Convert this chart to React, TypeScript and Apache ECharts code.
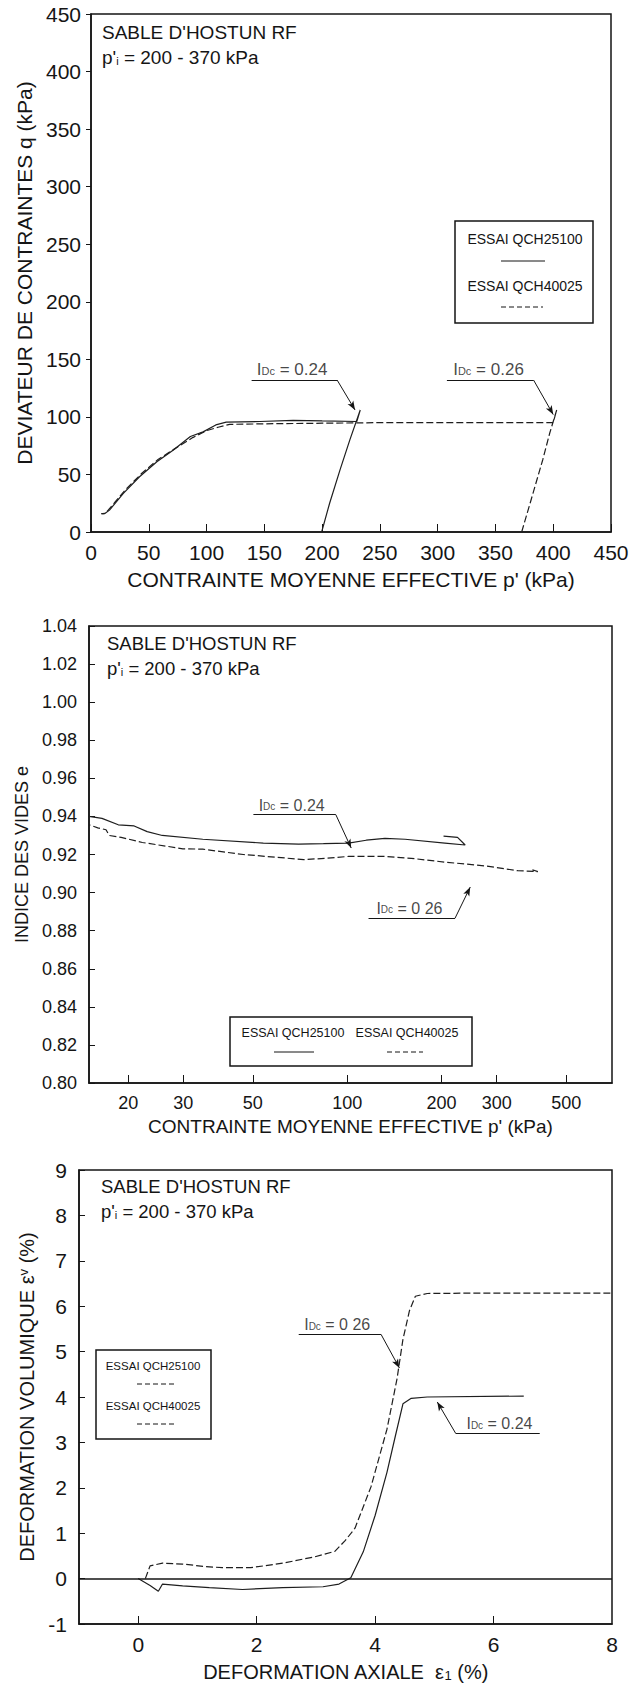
import React, { useEffect, useRef } from 'react';
import * as echarts from 'echarts';

const FONT = 'Liberation Sans, Arial, sans-serif';
const INK = '#151515';

// ---------- Chart 1 : q vs p' ----------
const qTicks = [0, 50, 100, 150, 200, 250, 300, 350, 400, 450];
const pTicks1 = [0, 50, 100, 150, 200, 250, 300, 350, 400, 450];
const c1_Idc024: [number, number][] = [
  [199.6, 0], [206.5, 25], [215.5, 54], [224, 80], [233, 106], [230, 96], [200, 96.5],
  [175, 97], [146, 96], [117, 95.5], [108, 93], [97, 87], [86, 83], [71, 71], [57, 61],
  [42, 48], [28, 33.5], [16, 19], [12, 16], [9, 16],
];
const c1_Idc026: [number, number][] = [
  [372.7, 0], [380, 25], [391, 63], [397, 86], [403, 106], [400, 95], [350, 95], [300, 95],
  [250, 95], [200, 94.5], [150, 94], [120, 93.5], [110, 91], [100, 88], [88, 82], [72, 72],
  [58, 63], [44, 51], [30, 37], [20, 25], [14, 18], [11, 16], [9, 16],
];

// ---------- Chart 2 : e vs log p' ----------
const pTicks2 = [20, 30, 50, 100, 200, 300, 500];
const c2_Idc024: [number, number][] = [
  [203, 0.9297], [225, 0.929], [238, 0.925], [205, 0.926], [153, 0.928], [132, 0.9285],
  [115, 0.9275], [101, 0.926], [84, 0.9257], [70, 0.9255], [54, 0.926], [34.6, 0.928],
  [25.7, 0.930], [23, 0.932], [20.9, 0.935], [18.6, 0.9356], [16.5, 0.939], [15, 0.940],
];
const c2_Idc026: [number, number][] = [
  [390, 0.912], [406, 0.911], [350, 0.9115], [276, 0.914], [205, 0.916], [160, 0.918],
  [132, 0.919], [101, 0.919], [85, 0.918], [72.7, 0.9173], [60, 0.9185], [46.6, 0.920],
  [34.6, 0.9228], [29.9, 0.923], [25, 0.925], [22.2, 0.9263], [19, 0.929], [17.4, 0.930],
  [17, 0.933], [16, 0.934], [15, 0.9356],
];

// ---------- Chart 3 : eps_v vs eps_1 ----------
const eps1Labels = [0, 2, 4, 6, 8];
const eps1Ticks = [0, 2, 4, 6];
const c3_Idc026: [number, number][] = [
  [0.12, 0], [0.2, 0.28], [0.41, 0.34], [0.75, 0.32], [1.1, 0.27], [1.42, 0.24], [1.9, 0.24],
  [2.44, 0.34], [2.98, 0.48], [3.32, 0.6], [3.49, 0.83], [3.66, 1.11], [3.93, 2.02], [4.2, 3.29],
  [4.37, 4.4], [4.47, 5.27], [4.58, 5.9], [4.68, 6.22], [4.88, 6.28], [5.83, 6.29], [8, 6.29],
];
const c3_Idc024: [number, number][] = [
  [0, 0], [0.2, -0.15], [0.34, -0.28], [0.41, -0.12], [0.75, -0.16], [1.2, -0.2], [1.76, -0.24],
  [2.44, -0.2], [3.12, -0.18], [3.39, -0.12], [3.59, 0.02], [3.8, 0.59], [4.0, 1.39], [4.2, 2.34],
  [4.34, 3.13], [4.47, 3.85], [4.61, 3.97], [4.88, 4.0], [6.51, 4.02],
];

// annotations (label value, text centre, underline, arrow) in data units
const notes1 = [
  { v: '0.24', at: [174, 141], under: [[139, 132], [213, 132]], arrow: [[213, 132], [228.5, 106]] },
  { v: '0.26', at: [344, 141], under: [[308, 132], [383, 132]], arrow: [[383, 132], [400, 102]] },
];
const notes2 = [
  { v: '0.24', at: [66.5, 0.9459], under: [[50.2, 0.9409], [92, 0.9409]], arrow: [[92, 0.9409], [103, 0.9234]] },
  { v: '0 26', at: [158, 0.8917], under: [[117, 0.8866], [221, 0.8866]], arrow: [[221, 0.8866], [247, 0.9029]] },
];
const notes3 = [
  { v: '0 26', at: [3.36, 5.59], under: [[2.71, 5.38], [4.1, 5.38]], arrow: [[4.1, 5.38], [4.41, 4.64]] },
  { v: '0.24', at: [6.1, 3.41], under: [[5.36, 3.2], [6.78, 3.2]], arrow: [[5.36, 3.2], [5.05, 3.89]] },
];

const legendNames = ['ESSAI QCH25100', 'ESSAI QCH40025'];

function noteSeries(idx: number, notes: any[], fs: number) {
  return {
    type: 'scatter',
    xAxisIndex: idx,
    yAxisIndex: idx,
    symbolSize: 0,
    silent: true,
    data: notes.map((n) => ({ value: n.at, name: n.v })),
    label: {
      show: true,
      position: 'inside',
      formatter: (p: any) => `I{s|Dc} = ${p.name}`,
      fontSize: fs,
      fontFamily: FONT,
      color: INK,
      rich: { s: { fontSize: Math.round(fs * 0.65), fontFamily: FONT, color: INK, padding: [3, 0, 0, 0] } },
    },
    markLine: {
      silent: true,
      animation: false,
      symbol: ['none', 'none'],
      label: { show: false },
      lineStyle: { color: INK, width: 1, type: 'solid' },
      data: notes.flatMap((n) => [
        [{ coord: n.under[0], symbol: 'none' }, { coord: n.under[1], symbol: 'none' }],
        [{ coord: n.arrow[0], symbol: 'none' }, { coord: n.arrow[1], symbol: 'arrow', symbolSize: [5, 9] }],
      ]),
    },
  };
}

function curve(idx: number, data: [number, number][], dashed: boolean, name: string) {
  return {
    type: 'line',
    name,
    xAxisIndex: idx,
    yAxisIndex: idx,
    data,
    showSymbol: false,
    symbol: 'none',
    silent: true,
    lineStyle: { color: '#1e1e1e', width: 1.2, type: dashed ? [7, 3] : 'solid' },
  };
}

function legendBox(x0: number, y0: number, w: number, h: number, items: any[]) {
  return [
    { type: 'rect', shape: { x: x0, y: y0, width: w, height: h }, style: { fill: '#fff', stroke: INK, lineWidth: 1.5 } },
    ...items,
  ];
}

function gText(text: string, x: number, y: number, fs: number, align = 'left', rich?: any) {
  return {
    type: 'text',
    x,
    y,
    style: { text, fill: INK, font: `${fs}px ${FONT}`, align, verticalAlign: 'middle', rich },
  };
}

function gLine(x1: number, y1: number, x2: number, y2: number, dashed: boolean) {
  return {
    type: 'line',
    shape: { x1, y1, x2, y2 },
    style: { stroke: INK, lineWidth: 1, lineDash: dashed ? [5, 3] : null },
  };
}

const axisLine = { show: true, onZero: false, lineStyle: { color: INK, width: 1.5 } };
const subRich = (fs: number) => ({
  s: { fontSize: fs, fontFamily: FONT, color: INK, padding: [6, 0, 0, 0] },
  sup: { fontSize: fs, fontFamily: FONT, color: INK, padding: [0, 0, 8, 0] },
});

export default function App() {
  const ref = useRef<HTMLDivElement>(null);
  useEffect(() => {
    document.body.style.margin = '0';
    const chart = echarts.init(ref.current!, null, { renderer: 'svg' });
    const pi = (fs: number) => ({ s: { fontSize: Math.round(fs * 0.6), fontFamily: FONT, fill: INK, padding: [7, 0, 0, 0] } });
    chart.setOption({
      animation: false,
      backgroundColor: '#fff',
      textStyle: { fontFamily: FONT, color: INK },
      grid: [
        { left: 91, top: 14, width: 520, height: 518, show: true, borderColor: INK, borderWidth: 1.5, outerBoundsMode: 'none' },
        { left: 89, top: 626, width: 523, height: 457, show: true, borderColor: INK, borderWidth: 1.5, outerBoundsMode: 'none' },
        { left: 79, top: 1170, width: 533, height: 454, show: true, borderColor: INK, borderWidth: 1.5, outerBoundsMode: 'none' },
      ],
      xAxis: [
        {
          gridIndex: 0, type: 'value', min: pTicks1[0], max: pTicks1[pTicks1.length - 1], interval: 50,
          axisLine, splitLine: { show: false },
          axisTick: { inside: true, length: 8, lineStyle: { color: INK } },
          axisLabel: { fontSize: 21, margin: 10, color: INK, fontFamily: FONT },
          name: "CONTRAINTE MOYENNE EFFECTIVE p' (kPa)", nameLocation: 'middle', nameGap: 37,
          nameTextStyle: { fontSize: 21, fontFamily: FONT, color: INK },
        },
        {
          gridIndex: 1, type: 'log', logBase: 10, min: 15, max: 700,
          axisLine, splitLine: { show: false }, minorTick: { show: false },
          axisTick: { inside: true, length: 8, customValues: pTicks2, lineStyle: { color: INK } },
          axisLabel: { fontSize: 18, margin: 11, color: INK, fontFamily: FONT, customValues: pTicks2, formatter: (v: number) => String(Math.round(v)) },
          name: "CONTRAINTE MOYENNE EFFECTIVE p' (kPa)", nameLocation: 'middle', nameGap: 34,
          nameTextStyle: { fontSize: 19, fontFamily: FONT, color: INK },
        },
        {
          gridIndex: 2, type: 'value', min: -1, max: 8,
          axisLine, splitLine: { show: false },
          axisTick: { inside: true, length: 8, customValues: eps1Ticks, lineStyle: { color: INK } },
          axisLabel: { fontSize: 21, margin: 10, color: INK, fontFamily: FONT, customValues: eps1Labels },
          name: 'DEFORMATION AXIALE  ε{s|1} (%)', nameLocation: 'middle', nameGap: 38,
          nameTextStyle: { fontSize: 20, fontFamily: FONT, color: INK, rich: subRich(13) },
        },
      ],
      yAxis: [
        {
          gridIndex: 0, type: 'value', min: qTicks[0], max: qTicks[qTicks.length - 1], interval: 50,
          axisLine, splitLine: { show: false },
          axisTick: { inside: false, length: 5, lineStyle: { color: INK } },
          axisLabel: { fontSize: 21, margin: 10, color: INK, fontFamily: FONT },
          name: 'DEVIATEUR DE CONTRAINTES q (kPa)', nameLocation: 'middle', nameGap: 55,
          nameTextStyle: { fontSize: 21, fontFamily: FONT, color: INK },
        },
        {
          gridIndex: 1, type: 'value', min: 0.8, max: 1.04, interval: 0.02,
          axisLine, splitLine: { show: false },
          axisTick: { inside: true, length: 6, lineStyle: { color: INK } },
          axisLabel: { fontSize: 18, margin: 12, color: INK, fontFamily: FONT, formatter: (v: number) => v.toFixed(2) },
          name: 'INDICE DES VIDES e', nameLocation: 'middle', nameGap: 56,
          nameTextStyle: { fontSize: 18, fontFamily: FONT, color: INK },
        },
        {
          gridIndex: 2, type: 'value', min: -1, max: 9, interval: 1,
          axisLine, splitLine: { show: false },
          axisTick: { inside: true, length: 6, lineStyle: { color: INK } },
          axisLabel: { fontSize: 21, margin: 12, color: INK, fontFamily: FONT },
          name: 'DEFORMATION VOLUMIQUE ε{sup|v} (%)', nameLocation: 'middle', nameGap: 40,
          nameTextStyle: { fontSize: 20, fontFamily: FONT, color: INK, rich: subRich(13) },
        },
      ],
      series: [
        curve(0, c1_Idc024, false, legendNames[0]),
        curve(0, c1_Idc026, true, legendNames[1]),
        noteSeries(0, notes1, 17),
        curve(1, c2_Idc024, false, legendNames[0]),
        curve(1, c2_Idc026, true, legendNames[1]),
        noteSeries(1, notes2, 16),
        {
          ...curve(2, c3_Idc024, false, legendNames[0]),
          markLine: {
            silent: true, animation: false, symbol: ['none', 'none'], label: { show: false },
            lineStyle: { color: INK, width: 1.6, type: 'solid' },
            data: [{ yAxis: 0 }],
          },
        },
        curve(2, c3_Idc026, true, legendNames[1]),
        noteSeries(2, notes3, 16),
      ],
      graphic: [
        // chart 1 texts and legend
        gText("SABLE D'HOSTUN RF", 102, 32, 19),
        gText("p'{s|i} = 200 - 370 kPa", 102, 57, 19, 'left', pi(19)),
        ...legendBox(455, 221, 138, 102, [
          gText(legendNames[0], 525, 239, 14, 'center'),
          gLine(501, 261, 545, 261, false),
          gText(legendNames[1], 525, 286, 14, 'center'),
          gLine(501, 307, 543, 307, true),
        ]),
        // chart 2
        gText("SABLE D'HOSTUN RF", 107, 643, 18.5),
        gText("p'{s|i} = 200 - 370 kPa", 107, 668, 18.5, 'left', pi(18.5)),
        ...legendBox(230, 1017, 242, 49, [
          gText(legendNames[0], 293, 1033, 12.5, 'center'),
          gText(legendNames[1], 407, 1033, 12.5, 'center'),
          gLine(274, 1052, 314, 1052, false),
          gLine(387, 1052, 423, 1052, true),
        ]),
        // chart 3
        gText("SABLE D'HOSTUN RF", 101, 1186, 18.5),
        gText("p'{s|i} = 200 - 370 kPa", 101, 1211, 18.5, 'left', pi(18.5)),
        ...legendBox(96, 1350, 115, 89, [
          gText(legendNames[0], 153, 1366, 11.5, 'center'),
          gLine(137, 1384, 177, 1384, true),
          gText(legendNames[1], 153, 1406, 11.5, 'center'),
          gLine(137, 1424, 177, 1424, true),
        ]),
      ],
    });
    return () => chart.dispose();
  }, []);
  return <div ref={ref} style={{ width: 631, height: 1685 }} />;
}
